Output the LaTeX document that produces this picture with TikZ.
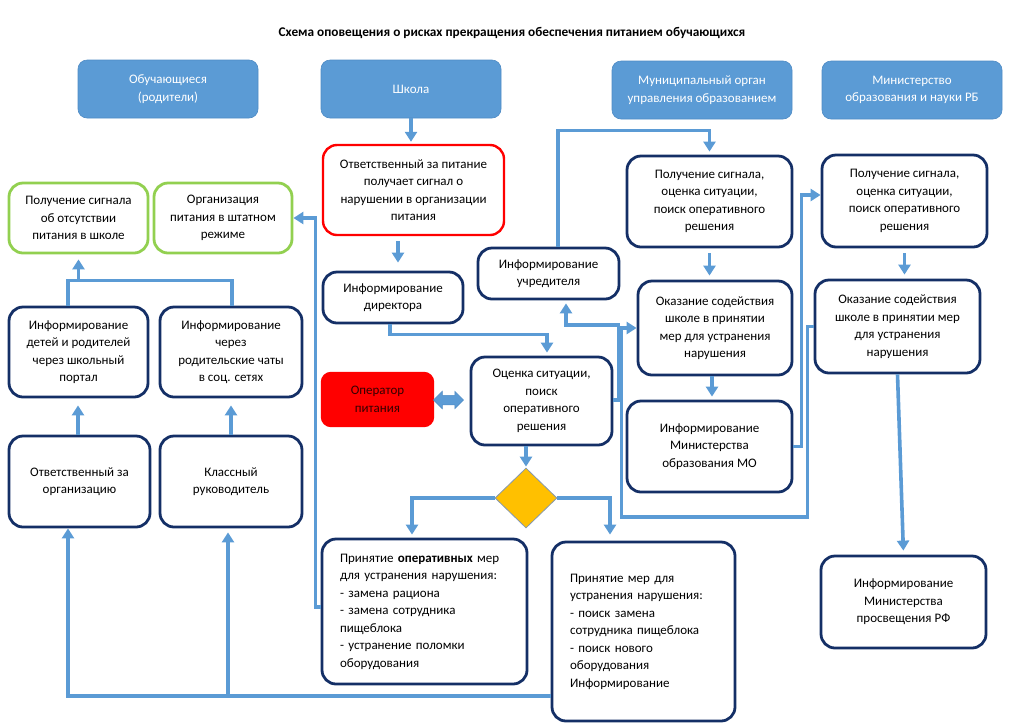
\documentclass[tikz,border=0pt]{standalone}
\usepackage{fontspec}
\setmainfont{Carlito}
\usetikzlibrary{arrows.meta,shapes.geometric,shapes.arrows,calc}
\definecolor{lb}{HTML}{5B9BD5}
\definecolor{hdrline}{HTML}{4F8BC4}
\definecolor{nav}{HTML}{142F66}
\definecolor{grn}{HTML}{92D050}
\definecolor{rd}{HTML}{FF0000}
\definecolor{gold}{HTML}{FFC000}
\definecolor{dgray}{HTML}{8497B0}
\newcommand\txtsz{\fontsize{13}{17.5}\selectfont}
\begin{document}
\begin{tikzpicture}[x=1pt,y=-1pt,
  hdr/.style={fill=lb, draw=hdrline, line width=0.6pt, rounded corners=9pt, text=white, align=center, minimum width=180pt, minimum height=58pt, font=\txtsz, inner sep=1pt},
  box/.style={draw=nav, line width=2.8pt, rounded corners=14pt, fill=white, align=center, font=\txtsz, inner sep=1pt},
  gbox/.style={box, draw=grn},
  rbox/.style={box, draw=rd, line width=2.4pt},
  conn/.style={draw=lb, line width=3.6pt},
  arr/.style={conn, -{Triangle[length=10pt,width=12pt]}}]
\useasboundingbox (0,0) rectangle (1024,724);

\node[font=\bfseries\fontsize{13.3}{16}\selectfont] (title) at (512,33) {Схема оповещения о рисках прекращения обеспечения питанием обучающихся};

\node[hdr] (h1) at (168,89) {Обучающиеся\\(родители)};
\node[hdr] (h2) at (411,89) {Школа};
\node[hdr] (h3) at (702,90) {Муниципальный орган\\управления образованием};
\node[hdr] (h4) at (912,90) {Министерство\\образования и науки РБ};

\node[gbox, minimum width=139pt, minimum height=70pt] (g1) at (78.5,218) {Получение сигнала\\об отсутствии\\питания в школе};
\node[gbox, minimum width=138pt, minimum height=70pt] (g2) at (223,218) {Организация\\питания в штатном\\режиме};
\node[box, minimum width=139pt, minimum height=90pt] (i1) at (78.5,352) {Информирование\\детей и родителей\\через школьный\\портал};
\node[box, minimum width=142pt, minimum height=90pt] (i2) at (231,352) {Информирование\\через\\родительские чаты\\в соц. сетях};
\node[box, minimum width=141pt, minimum height=91pt] (o1) at (79.5,481.5) {Ответственный за\\организацию};
\node[box, minimum width=142pt, minimum height=91pt] (o2) at (231,481.5) {Классный\\руководитель};

\node[rbox, minimum width=181pt, minimum height=90pt] (red) at (413.5,190) {Ответственный за питание\\получает сигнал о\\нарушении в организации\\питания};
\node[box, minimum width=140pt, minimum height=51pt] (dir) at (393,297.5) {Информирование\\директора};
\node[box, minimum width=141pt, minimum height=51pt] (uch) at (548.5,273.5) {Информирование\\учредителя};
\node[rbox, fill=rd, text=black!80!red, rounded corners=9pt, minimum width=111pt, minimum height=53pt] (oper) at (377.5,399.5) {Оператор\\питания};
\node[box, minimum width=141pt, minimum height=88pt] (ots) at (541.5,401) {Оценка ситуации,\\поиск\\оперативного\\решения};
\node[double arrow, fill=lb, draw=hdrline, line width=0.5pt, minimum height=30pt, minimum width=17pt, double arrow head extend=4pt, inner sep=0pt, inner ysep=4.5pt] (dbl) at (448.5,400) {};
\node[diamond, fill=gold, draw=dgray, line width=0.8pt, minimum width=62pt, minimum height=60pt, inner sep=0pt] (dia) at (526,498) {};

\node[box, minimum width=205pt, minimum height=145pt, text width=169pt, align=left, inner xsep=0pt] (pr1) at (424.5,611.5) {Принятие \textbf{оперативных} мер\\для устранения нарушения:\\- замена рациона\\- замена сотрудника\\пищеблока\\- устранение поломки\\оборудования};
\node[box, minimum width=183pt, minimum height=179pt, text width=147pt, align=left, inner xsep=0pt] (pr2) at (643.5,631.5) {Принятие мер для\\устранения нарушения:\\- поиск замена\\сотрудника пищеблока\\- поиск нового\\оборудования\\Информирование};

\node[box, minimum width=165pt, minimum height=91pt] (m1) at (709.5,201.5) {Получение сигнала,\\оценка ситуации,\\поиск оперативного\\решения};
\node[box, minimum width=154pt, minimum height=94pt] (m2) at (715,328) {Оказание содействия\\школе в принятии\\мер для устранения\\нарушения};
\node[box, minimum width=165pt, minimum height=91pt] (m3) at (709.5,446.5) {Информирование\\Министерства\\образования МО};

\node[box, minimum width=165pt, minimum height=92pt] (r1) at (904.5,201) {Получение сигнала,\\оценка ситуации,\\поиск оперативного\\решения};
\node[box, minimum width=165pt, minimum height=93pt] (r2) at (897.5,326.5) {Оказание содействия\\школе в принятии мер\\для устранения\\нарушения};
\node[box, minimum width=165pt, minimum height=92pt] (r3) at (903.5,602) {Информирование\\Министерства\\просвещения РФ};

% school column
\draw[arr, shorten >=2pt] (h2.south) -- (h2.south |- red.north);
\draw[arr, shorten <=5pt, shorten >=8pt] ([xshift=-15.5pt]red.south) -- ([xshift=-15.5pt]red.south |- dir.north);
\draw[arr, shorten >=3pt] ([xshift=-3pt]dir.south) -- ++(0,10) -| ([xshift=5.5pt]ots.north);
\draw[arr, shorten >=3pt] ([yshift=1pt]ots.east) -- ++(5,0) -- ++(0,-75) -| ([xshift=17.5pt]uch.south);
\draw[arr, shorten >=3pt] ([xshift=9.5pt]uch.north) -- ++(0,-116) -| (m1.north);
\draw[arr, shorten >=1pt] (dia.north |- ots.south) -- (dia.north);
\draw[arr, shorten >=3pt] (dia.west) -| ([xshift=-12.5pt]pr1.north);
\draw[arr, shorten >=6pt] (dia.east) -| ([xshift=-33.5pt]pr2.north);
\draw[arr] ([yshift=4.5pt]pr1.west) -- ++(-5,0) |- (g2.east);

% municipal / ministry
\draw[arr, shorten <=5pt, shorten >=4pt] (m1.south) -- (m1.south |- m2.north);
\draw[arr, shorten >=3pt] ([xshift=-3pt]m2.south) -- ([xshift=-3pt]m2.south |- m3.north);
\draw[arr] (m3.east) -- ++(8,0) |- ([yshift=6pt]r1.west);
\draw[arr, shorten <=5pt, shorten >=4pt] (r1.south) -- (r1.south |- r2.north);
\draw[arr, shorten >=4pt] (r2.south) -- (r3.north);
\draw[arr] (r2.west) -- ++(-6,0) -- ++(0,190.5) -- ++(-186,0) |- (m2.west);

% left side
\coordinate (bus) at ([yshift=-64.5pt]pr2.west);
\coordinate (o1b) at ([xshift=-11.5pt]o1.south);
\coordinate (o2b) at ([xshift=-3pt]o2.south);
\draw[arr] (bus) -| (o1b);
\draw[arr, shorten >=4pt] (bus -| o2b) -- (o2b);
\draw[arr, shorten >=7pt] ([xshift=-1.5pt]o1.north) -- ([xshift=-1.5pt]o1.north |- i1.south);
\draw[arr, shorten >=7pt] (o2.north) -- (o2.north |- i2.south);
\coordinate (jn) at ([xshift=-10.5pt,yshift=25pt]i1.north);
\draw[conn] ([xshift=-10.5pt]i1.north) -- (jn) -| ([xshift=1pt]i2.north);
\draw[arr, shorten >=5pt] (jn -| g1.south) -- (g1.south);
\end{tikzpicture}
\end{document}
